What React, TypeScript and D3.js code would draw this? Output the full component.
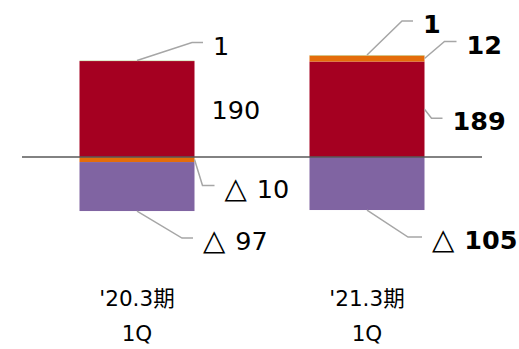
import React from "react";
import * as d3 from "d3";

const categories = ["'20.3期", "'21.3期"];
const subLabels = ["1Q", "1Q"];
const seriesKeys = ["red", "orange", "green", "purple"];
const redValues = [190, 189];
const orangeValues = [-10, 12];
const greenValues = [1, 1];
const purpleValues = [-97, -105];

const colors: Record<string, string> = {
  red: "#A50021",
  orange: "#E46C0A",
  green: "#B9D48F",
  purple: "#8064A2",
};

type LabelSpec = {
  anchor: "top-center" | "bottom-center" | "right-mid" | "none";
  dx: number;
  dy: number;
  len: number;
};

// label leader-line layout per bar, per series
const labelLayout: Record<string, LabelSpec>[] = [
  {
    green: { anchor: "top-center", dx: 55, dy: -18, len: 11 },
    red: { anchor: "none", dx: 17, dy: 10, len: 0 },
    orange: { anchor: "right-mid", dx: 8, dy: 26, len: 12 },
    purple: { anchor: "bottom-center", dx: 45, dy: 27, len: 11 },
  },
  {
    green: { anchor: "top-center", dx: 35, dy: -34, len: 11 },
    orange: { anchor: "right-mid", dx: 20, dy: -17, len: 12 },
    red: { anchor: "right-mid", dx: 7, dy: 9, len: 11 },
    purple: { anchor: "bottom-center", dx: 41, dy: 27, len: 14 },
  },
];

const W = 519;
const H = 349;
const zeroY = 157;
const k = 0.505;

export default function App() {
  const rows = categories.map((c, i) => ({
    cat: c,
    red: redValues[i],
    orange: orangeValues[i],
    green: greenValues[i],
    purple: purpleValues[i],
  }));
  const stack = d3
    .stack<any>()
    .keys(seriesKeys)
    .offset(d3.stackOffsetDiverging);
  const series = stack(rows);

  const x = d3
    .scaleBand<string>()
    .domain(categories)
    .range([22, 482])
    .paddingInner(0.5)
    .paddingOuter(0.25);
  const y = d3
    .scaleLinear()
    .domain([-200, 200])
    .range([zeroY + 200 * k, zeroY - 200 * k]);

  const font = "'DejaVu Sans', 'Noto Sans CJK JP', sans-serif";
  const fs = 25.5;

  const renderValue = (value: number, bold: boolean) =>
    value < 0 ? (
      <>
        <tspan fontWeight="normal" fontSize={29}>△</tspan>
        <tspan dx={10} fontWeight={bold ? "bold" : "normal"}>{Math.abs(value)}</tspan>
      </>
    ) : (
      <tspan fontWeight={bold ? "bold" : "normal"}>{value}</tspan>
    );

  const bars: React.ReactNode[] = [];
  const labels: React.ReactNode[] = [];
  series.forEach((s) => {
    s.forEach((d, i) => {
      const cat = categories[i];
      const x0 = x(cat)!;
      const bw = x.bandwidth();
      const yTop = y(Math.max(d[0], d[1]));
      const yBot = y(Math.min(d[0], d[1]));
      bars.push(
        <rect
          key={s.key + i}
          x={x0}
          y={yTop}
          width={bw}
          height={Math.max(0, yBot - yTop)}
          fill={colors[s.key]}
        />
      );
      const spec = labelLayout[i][s.key];
      const value = (d.data as any)[s.key] as number;
      const bold = i === 1;
      if (!spec) return;
      if (spec.anchor === "none") {
        labels.push(
          <text
            key={"t" + s.key + i}
            x={x0 + bw + spec.dx}
            y={(yTop + yBot) / 2 + spec.dy}
            fontSize={fs}
            fontFamily={font}
            fill="#000"
          >
            {renderValue(value, bold)}
          </text>
        );
        return;
      }
      let ax = 0,
        ay = 0;
      if (spec.anchor === "top-center") {
        ax = x0 + bw / 2;
        ay = yTop;
      } else if (spec.anchor === "bottom-center") {
        ax = x0 + bw / 2;
        ay = yBot;
      } else {
        ax = x0 + bw;
        ay = (yTop + yBot) / 2;
      }
      const ex = ax + spec.dx;
      const ey = ay + spec.dy;
      const fx = ex + spec.len;
      labels.push(
        <polyline
          key={"l" + s.key + i}
          points={`${ax},${ay} ${ex},${ey} ${fx},${ey}`}
          fill="none"
          stroke="#A6A6A6"
          strokeWidth={1.5}
        />
      );
      labels.push(
        <text
          key={"t" + s.key + i}
          x={fx + 10}
          y={ey + 12}
          fontSize={fs}
          fontFamily={font}
          fill="#000"
        >
          {renderValue(value, bold)}
        </text>
      );
    });
  });

  return (
    <svg
      width={W}
      height={H}
      style={{ position: "absolute", left: 0, top: 0, background: "#fff" }}
    >
      {bars}
      <line
        x1={22}
        x2={482}
        y1={y(0)}
        y2={y(0)}
        stroke="#595959"
        strokeWidth={1.5}
      />
      {labels}
      {categories.map((c, i) => (
        <g key={"ax" + i} fontFamily={font} fontSize={21.5} fill="#000" textAnchor="middle">
          <text x={x(c)! + x.bandwidth() / 2} y={306}>
            {c}
          </text>
          <text x={x(c)! + x.bandwidth() / 2} y={341}>
            {subLabels[i]}
          </text>
        </g>
      ))}
    </svg>
  );
}
